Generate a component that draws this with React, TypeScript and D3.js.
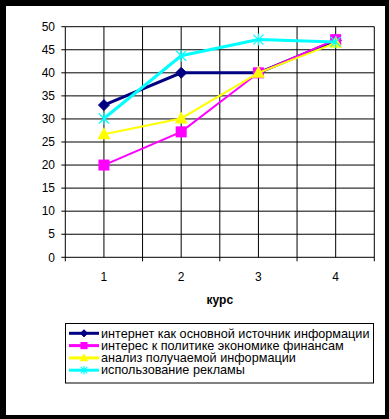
import * as d3 from 'd3'

const courses = ['1', '2', '3', '4']
const internetSource = [33, 40, 40, 47]
const politicsInterest = [20, 27.2, 40, 47.2]
const infoAnalysis = [26.7, 30.1, 40, 46.5]
const advertising = [30.1, 43.7, 47.2, 46.7]
const yTicks = [0, 5, 10, 15, 20, 25, 30, 35, 40, 45, 50]

const series = [
  { name: 'интернет как основной источник информации', values: internetSource, color: '#000080', marker: 'diamond', width: 3 },
  { name: 'интерес к политике экономике финансам', values: politicsInterest, color: '#ff00ff', marker: 'square', width: 2 },
  { name: 'анализ получаемой информации', values: infoAnalysis, color: '#ffff00', marker: 'triangle', width: 2 },
  { name: 'использование рекламы', values: advertising, color: '#00ffff', marker: 'x', width: 3 },
]

const W = 389
const H = 419
const font = '"Liberation Sans", Arial, sans-serif'

function Marker({ kind, x, y, color, k = 1 }: { kind: string; x: number; y: number; color: string; k?: number }) {
  if (kind === 'diamond') {
    const s = 5.5 * k
    return <path d={`M${x},${y - s}L${x + s},${y}L${x},${y + s}L${x - s},${y}Z`} fill={color} stroke={color} strokeWidth={1} />
  }
  if (kind === 'square') {
    const s = 5.5 * k
    return <rect x={x - s} y={y - s} width={2 * s} height={2 * s} fill={color} />
  }
  if (kind === 'triangle') {
    return <path d={`M${x},${y - 7 * k}L${x + 6.5 * k},${y + 5 * k}L${x - 6.5 * k},${y + 5 * k}Z`} fill={color} />
  }
  const s = 5 * k
  return (
    <path
      d={`M${x - s},${y - s}L${x + s},${y + s}M${x - s},${y + s}L${x + s},${y - s}M${x},${y - s - 1}L${x},${y + s + 1}`}
      stroke={color}
      strokeWidth={1.2}
      fill="none"
    />
  )
}

export default function App() {
  const left = 65.3
  const right = 374.3
  const top = 26.7
  const bottom = 257.3

  const x = d3.scaleBand<string>().domain(courses).range([left, right])
  const cx = (c: string) => (x(c) ?? 0) + x.bandwidth() / 2
  const y = d3.scaleLinear().domain([0, 50]).range([bottom, top])

  const line = d3.line<number>()
    .x((_, i) => cx(courses[i]))
    .y((d) => y(d))

  const bandEdges = [...courses.map((c) => x(c) ?? 0), right]

  return (
    <svg
      width={W}
      height={H}
      style={{ position: 'absolute', left: 0, top: 0, display: 'block' }}
      fontFamily={font}
    >
      <rect width={W} height={H} fill="#000" />
      <rect x={6} y={6} width={379} height={409} fill="#fff" />

      {/* horizontal grid */}
      {yTicks.map((t) => (
        <line key={`h${t}`} x1={left} x2={right} y1={y(t)} y2={y(t)} stroke="#000" strokeWidth={1} />
      ))}
      {/* vertical grid: band edges and centers */}
      {bandEdges.map((e, i) => (
        <line key={`e${i}`} x1={e} x2={e} y1={top} y2={bottom + 4} stroke="#000" strokeWidth={1} />
      ))}
      {courses.map((c) => (
        <line key={`c${c}`} x1={cx(c)} x2={cx(c)} y1={top} y2={bottom} stroke="#000" strokeWidth={1} />
      ))}
      {/* y axis ticks */}
      {yTicks.map((t) => (
        <g key={`yt${t}`}>
          <line x1={left - 4} x2={left} y1={y(t)} y2={y(t)} stroke="#000" />
          <text x={55} y={y(t)} dy="0.35em" textAnchor="end" fontSize={12} fill="#000">{t}</text>
        </g>
      ))}
      {courses.map((c) => (
        <text key={`xt${c}`} x={cx(c)} y={277} dy="0.35em" textAnchor="middle" fontSize={12} fill="#000">{c}</text>
      ))}
      <text x={219.8} y={300} dy="0.35em" textAnchor="middle" fontSize={12} fontWeight="bold" fill="#000">курс</text>

      {series.map((s) => (
        <g key={s.name}>
          <path d={line(s.values) ?? ''} fill="none" stroke={s.color} strokeWidth={s.width} />
          {s.values.map((v, i) => (
            <Marker key={i} kind={s.marker} x={cx(courses[i])} y={y(v)} color={s.color} />
          ))}
        </g>
      ))}

      {/* legend */}
      <rect x={65.5} y={323.5} width={308} height={59.5} fill="#fff" stroke="#000" strokeWidth={1} />
      {series.map((s, i) => {
        const ly = 333.3 + i * 12.3
        return (
          <g key={`lg${i}`}>
            <line x1={69} x2={99} y1={ly} y2={ly} stroke={s.color} strokeWidth={3} />
            <Marker kind={s.marker} x={84} y={ly} color={s.color} k={0.65} />
            <text
              transform={`translate(101,${ly}) scale(1.055,1)`}
              dy="0.35em"
              fontSize={12}
              fill="#000"
            >
              {s.name}
            </text>
          </g>
        )
      })}
    </svg>
  )
}
